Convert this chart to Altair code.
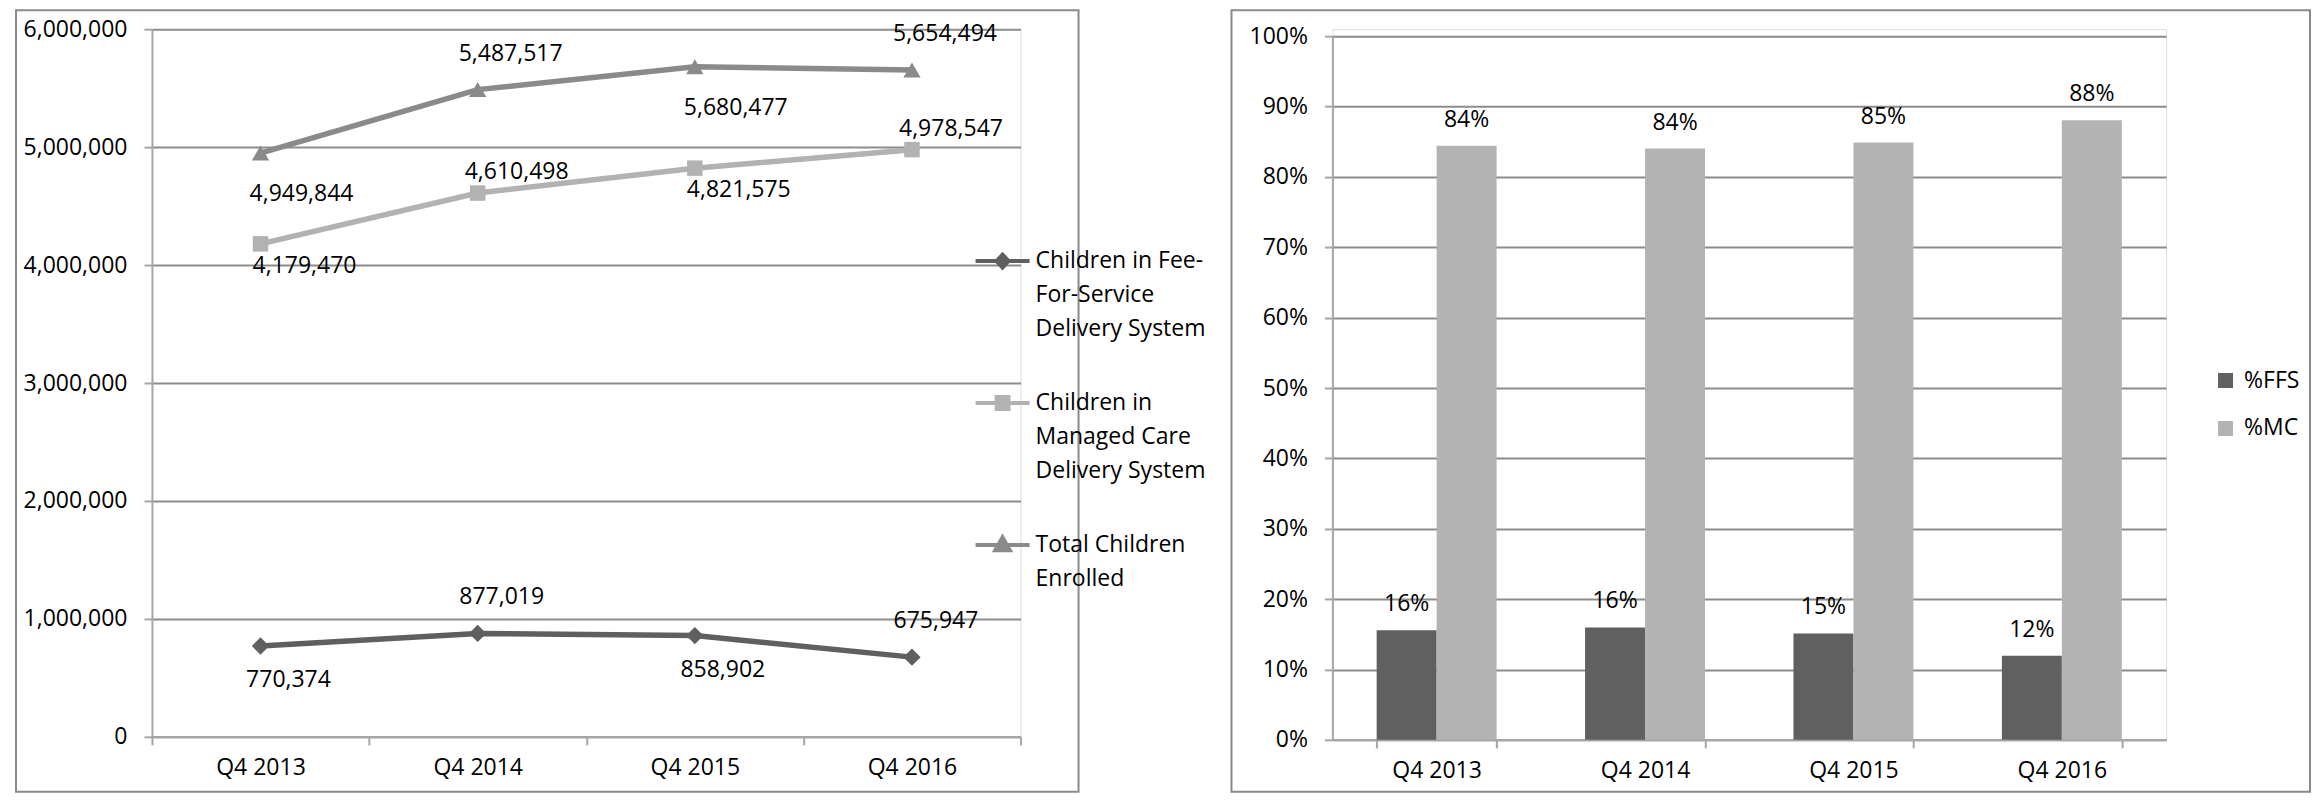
import altair as alt
import pandas as pd

# ---------------- data ----------------
quarters = ["Q4 2013", "Q4 2014", "Q4 2015", "Q4 2016"]
series_names = [
    "Children in Fee-For-Service Delivery System",
    "Children in Managed Care Delivery System",
    "Total Children Enrolled",
]
ffs_children = [770374, 877019, 858902, 675947]
mc_children = [4179470, 4610498, 4821575, 4978547]
total_children = [4949844, 5487517, 5680477, 5654494]
count_ticks = [0, 1000000, 2000000, 3000000, 4000000, 5000000, 6000000]

bar_series = ["%FFS", "%MC"]
pct_ffs = [0.1556, 0.1598, 0.1512, 0.1195]
pct_mc = [0.8444, 0.8402, 0.8488, 0.8805]
pct_ticks = [0, 0.1, 0.2, 0.3, 0.4, 0.5, 0.6, 0.7, 0.8, 0.9, 1.0]

# ---------------- style ----------------
FONT = "Open Sans"
FS = 23
GRID = "#8c8c8c"
AXISC = "#a6a6a6"
FRAME = "#8a8a8a"
line_colors = ["#5f5f5f", "#b2b2b2", "#8a8a8a"]
marker_shapes = ["diamond", "square", "triangle-up"]
marker_sizes = [300, 240, 300]
legend_paths = [
    "M-1,0H1M-0.22,0L0,-0.24L0.22,0L0,0.24Z",
    "M-1,0H1M-0.22,-0.22H0.22V0.22H-0.22Z",
    "M-1,0H1M0,-0.28L0.27,0.2H-0.27Z",
]
bar_colors = ["#606060", "#b3b3b3"]

legend_label_expr = (
    "datum.label == '" + series_names[0] + "' ? ['Children in Fee-', 'For-Service', 'Delivery System'] : "
    "datum.label == '" + series_names[1] + "' ? ['Children in', 'Managed Care', 'Delivery System'] : "
    "['Total Children', 'Enrolled']"
)

# label placement (above / below the point) per series
label_place = {
    series_names[0]: (["Q4 2014", "Q4 2016"], (24, -36), (28, 34)),
    series_names[1]: (["Q4 2014", "Q4 2016"], (39, -21), (44, 22)),
    series_names[2]: (["Q4 2014", "Q4 2016"], (33, -36), (41, 41)),
}

axis_common = dict(
    title=None, labelFont=FONT, labelFontSize=FS, labelColor="black",
    domainColor=AXISC, domainWidth=2, tickColor=AXISC, tickWidth=2, tickSize=8,
)

# ---------------- left: line chart ----------------
LW, LH = 869, 708
line_df = pd.DataFrame({
    "quarter": quarters * 3,
    "series": [s for s in series_names for _ in quarters],
    "value": ffs_children + mc_children + total_children,
})

x_left = alt.X(
    "quarter:N", sort=quarters,
    scale=alt.Scale(type="band", paddingInner=0, paddingOuter=0),
    axis=alt.Axis(labelAngle=0, tickBand="extent", grid=False, labelPadding=12, **axis_common),
)
y_left = alt.Y(
    "value:Q", scale=alt.Scale(domain=[0, 6000000], nice=False),
    axis=alt.Axis(values=count_ticks, format=",d", grid=True, gridColor=GRID, gridWidth=2,
                  labelPadding=17, **axis_common),
)

left_layers = []
frame_left = alt.Chart(pd.DataFrame({"f": [0]})).mark_rect(
    fillOpacity=0, stroke=FRAME, strokeWidth=2
).encode(x=alt.value(-136), x2=alt.value(LW + 58), y=alt.value(-19), y2=alt.value(763))
left_layers.append(frame_left)

for name, col in zip(series_names, line_colors):
    left_layers.append(
        alt.Chart(line_df).transform_filter(alt.datum.series == name)
        .mark_line(color=col, strokeWidth=5.5).encode(x=x_left, y=y_left)
    )
for name, col, shp, sz in zip(series_names, line_colors, marker_shapes, marker_sizes):
    left_layers.append(
        alt.Chart(line_df).transform_filter(alt.datum.series == name)
        .mark_point(filled=True, shape=shp, size=sz, color=col, opacity=1)
        .encode(x=x_left, y=y_left)
    )

for name in series_names:
    above, (adx, ady), (bdx, bdy) = label_place[name]
    base = alt.Chart(line_df).transform_filter(alt.datum.series == name)
    left_layers.append(
        base.transform_filter(alt.FieldOneOfPredicate(field="quarter", oneOf=above))
        .mark_text(dx=adx, dy=ady, font=FONT, fontSize=FS, color="black")
        .encode(x=x_left, y=y_left, text=alt.Text("value:Q", format=",d"))
    )
    left_layers.append(
        base.transform_filter(~alt.FieldOneOfPredicate(field="quarter", oneOf=above))
        .mark_text(dx=bdx, dy=bdy, font=FONT, fontSize=FS, color="black")
        .encode(x=x_left, y=y_left, text=alt.Text("value:Q", format=",d"))
    )

leg = alt.Legend(
    title=None, orient="none", legendX=822, legendY=203, padding=0,
    labelExpr=legend_label_expr, labelLimit=400, labelFont=FONT, labelFontSize=FS,
    labelColor="black", symbolSize=2916, symbolStrokeWidth=4, symbolOpacity=1,
    rowPadding=33, labelOffset=4,
)
legend_layer = alt.Chart(line_df).mark_point(opacity=0).encode(
    x=x_left, y=y_left,
    fill=alt.Fill("series:N", scale=alt.Scale(domain=series_names, range=line_colors), legend=leg),
    stroke=alt.Stroke("series:N", scale=alt.Scale(domain=series_names, range=line_colors), legend=leg),
    shape=alt.Shape("series:N", scale=alt.Scale(domain=series_names, range=legend_paths), legend=leg),
)
left_layers.append(legend_layer)

left = alt.layer(*left_layers).properties(width=LW, height=LH)

# ---------------- right: bar chart ----------------
RW, RH = 834, 711
bar_df = pd.DataFrame({
    "quarter": quarters * 2,
    "series": [bar_series[0]] * 4 + [bar_series[1]] * 4,
    "value": pct_ffs + pct_mc,
})

x_right = alt.X(
    "quarter:N", sort=quarters,
    scale=alt.Scale(paddingInner=0.4245, paddingOuter=0.21225),
    axis=alt.Axis(labelAngle=0, tickBand="extent", grid=False, labelPadding=12, **axis_common),
)
xoff = alt.XOffset("series:N", sort=bar_series, scale=alt.Scale(paddingInner=0, paddingOuter=0))
y_right = alt.Y(
    "value:Q", scale=alt.Scale(domain=[0, 1], range=[RH, 7], nice=False),
    axis=alt.Axis(values=pct_ticks, format=".0%", grid=True, gridColor=GRID, gridWidth=2,
                  labelPadding=17, **axis_common),
)

frame_right = alt.Chart(pd.DataFrame({"f": [0]})).mark_rect(
    fillOpacity=0, stroke=FRAME, strokeWidth=2
).encode(x=alt.value(-101), x2=alt.value(RW + 144), y=alt.value(-19), y2=alt.value(763))

bars = alt.Chart(bar_df).mark_bar().encode(
    x=x_right, xOffset=xoff, y=y_right,
    color=alt.Color(
        "series:N", sort=bar_series,
        scale=alt.Scale(domain=bar_series, range=bar_colors),
        legend=alt.Legend(title=None, orient="none", legendX=2063, legendY=340, padding=0,
                          symbolType="square", symbolSize=225, symbolStrokeWidth=0,
                          labelFont=FONT, labelFontSize=FS, labelColor="black",
                          rowPadding=24, labelOffset=7),
    ),
)
bar_text = alt.Chart(bar_df).mark_text(dy=-26, font=FONT, fontSize=FS, color="black").encode(
    x=x_right, xOffset=xoff, y=y_right, text=alt.Text("value:Q", format=".0%")
)

right = alt.layer(frame_right, bars, bar_text).properties(width=RW, height=RH)

chart = (
    alt.hconcat(left, right, spacing=312, bounds="flush")
    .properties(padding={"left": 6, "top": 0, "right": 0, "bottom": 0})
    .configure_view(strokeWidth=0)
    .configure_axis(labelFont=FONT, labelFontSize=FS, labelColor="black")
    .configure_text(font=FONT, fontSize=FS)
    .configure_legend(labelFont=FONT, labelFontSize=FS, labelColor="black")
    .configure(style={"guide-label": {"lineHeight": 34, "font": FONT, "fontSize": FS, "fill": "black"}})
)

chart.save("out.html", embed_options={"renderer": "svg", "actions": False})
